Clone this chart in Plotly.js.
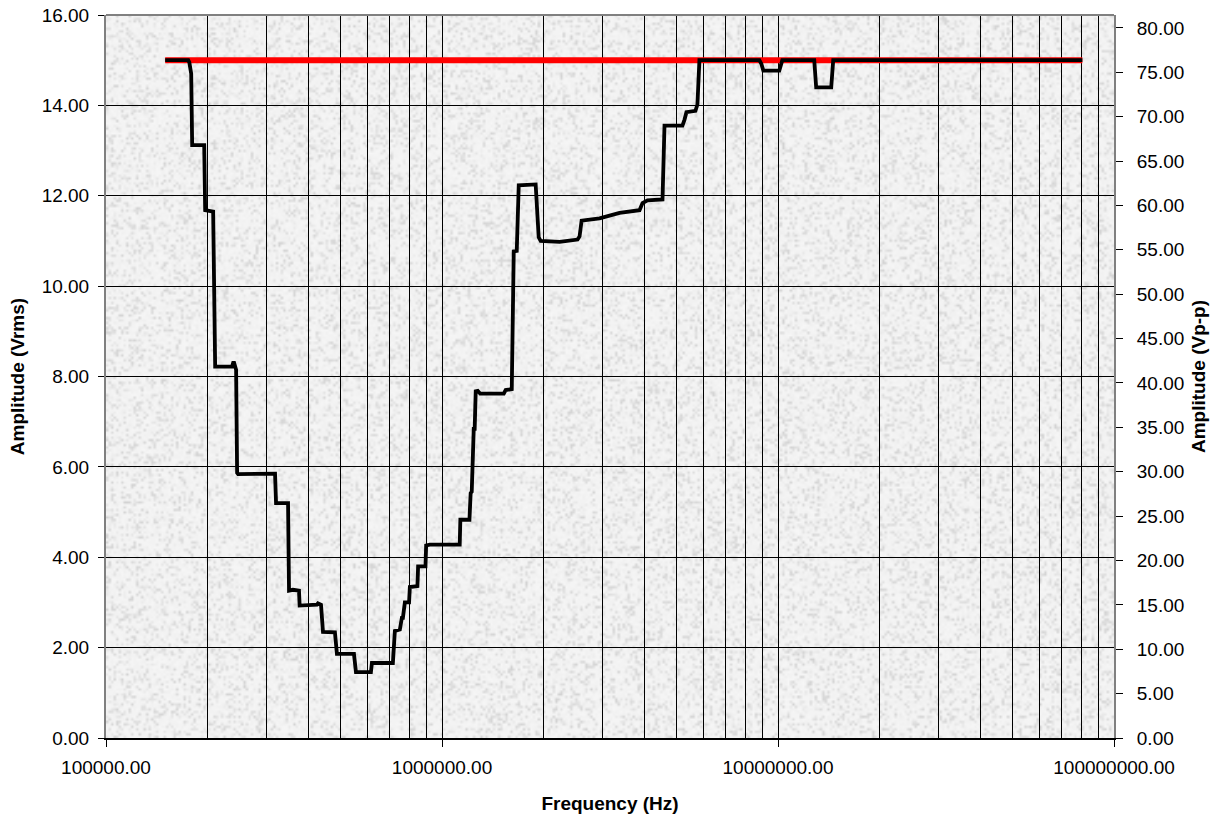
<!DOCTYPE html>
<html><head><meta charset="utf-8">
<script src="https://cdn.plot.ly/plotly-3.0.1.min.js"></script>
<style>body{margin:0;background:#fff}#chart{width:1217px;height:819px}</style>
</head><body><div id="chart"></div>
<script>
// Measured response (step curve vertices)
const frequencyHz = [
  150000, 175700, 177000, 178100, 179300, 180500, 196000, 197300, 208400, 211300,
  237300, 239000, 240600, 243900, 245600, 247300, 318500, 320700, 348200, 350500,
  360000, 375300, 377000, 424600, 427500, 436400, 442400, 480100, 486700, 547000,
  554500, 614400, 618600, 714200, 724000, 749200, 759600, 765000, 775300, 798000,
  802300, 845000, 849000, 893000, 897000, 920000, 1129000, 1134000, 1207000, 1217000,
  1226000, 1243000, 1251000, 1260000, 1278000, 1300000, 1527000, 1547000, 1613000, 1635000,
  1669000, 1692000, 1900000, 1940000, 1966000, 2239000, 2532000, 2567000, 2603000, 2944000,
  3376000, 3871000, 3952000, 4089000, 4532000, 4594000, 5195000, 5267000, 5340000, 5679000,
  5757000, 5836000, 8800000, 8920000, 9044000, 10090000, 10300000, 12820000, 12990000, 14400000,
  14600000, 80500000
];
const amplitudeVrms = [
  15.0, 15.0, 14.95, 14.75, 14.7, 13.12, 13.12, 11.68, 11.65, 8.22,
  8.22, 8.3, 8.3, 8.15, 5.87, 5.84, 5.85, 5.2, 5.2, 3.26,
  3.28, 3.26, 2.93, 2.95, 2.98, 2.95, 2.35, 2.34, 1.86, 1.86,
  1.46, 1.46, 1.66, 1.66, 2.37, 2.40, 2.66, 2.66, 3.0, 3.0,
  3.34, 3.36, 3.8, 3.8, 4.26, 4.28, 4.28, 4.83, 4.83, 5.42,
  5.45, 6.84, 6.84, 7.67, 7.68, 7.62, 7.62, 7.7, 7.72, 10.77,
  10.78, 12.23, 12.25, 11.08, 11.0, 10.98, 11.03, 11.1, 11.45, 11.5,
  11.62, 11.68, 11.84, 11.9, 11.92, 13.55, 13.55, 13.68, 13.85, 13.88,
  14.02, 15.0, 15.0, 14.92, 14.77, 14.77, 15.0, 15.0, 14.4, 14.4,
  15.0, 15.0
];
// Target level line
const limitFrequencyHz = [150000, 80500000];
const limitVrms = [15, 15];

// Axis ticks
const xTickVals = [1e5, 1e6, 1e7, 1e8];
const xTickText = ['100000.00', '1000000.00', '10000000.00', '100000000.00'];
const xMinorVals = [2e5,3e5,4e5,5e5,6e5,7e5,8e5,9e5,
                    2e6,3e6,4e6,5e6,6e6,7e6,8e6,9e6,
                    2e7,3e7,4e7,5e7,6e7,7e7,8e7,9e7];
const yLeftRange = [0, 16];
const yRightRange = [0, 81.45];

// background texture (deterministic)
function makeTexture(w, h) {
  let s = 987654321;
  function rnd() { s = (Math.imul(s, 1103515245) + 12345) >>> 0; return (s >>> 8) / 16777216; }
  const sw = Math.ceil(w / 2.5), sh = Math.ceil(h / 2.5);
  const small = document.createElement('canvas');
  small.width = sw; small.height = sh;
  const sctx = small.getContext('2d');
  const img = sctx.createImageData(sw, sh);
  for (let i = 0; i < sw * sh; i++) {
    const n = rnd();
    let v = 246 - n * 8;
    if (n > 0.7) v -= (n - 0.7) * 90;
    img.data[i*4] = v; img.data[i*4+1] = v; img.data[i*4+2] = v; img.data[i*4+3] = 255;
  }
  sctx.putImageData(img, 0, 0);
  const c = document.createElement('canvas');
  c.width = w; c.height = h;
  const ctx = c.getContext('2d');
  ctx.imageSmoothingEnabled = true;
  ctx.drawImage(small, 0, 0, w, h);
  return c.toDataURL('image/png');
}

const W = 1217, H = 819;
const M = {l: 106, r: 103, t: 15, b: 81};
const tex = makeTexture(W - M.l - M.r, H - M.t - M.b);

const font = 'Arial, "Liberation Sans", sans-serif';

const traces = [
  {x: limitFrequencyHz, y: limitVrms, type: 'scatter', mode: 'lines',
   line: {color: '#ff0000', width: 6}, hoverinfo: 'skip', showlegend: false},
  {x: frequencyHz, y: amplitudeVrms, type: 'scatter', mode: 'lines',
   line: {color: '#000000', width: 3.8}, showlegend: false},
  {x: limitFrequencyHz, y: [null, null], yaxis: 'y2', type: 'scatter', mode: 'lines',
   showlegend: false, hoverinfo: 'skip'}
];

const layout = {
  width: W, height: H,
  margin: M,
  paper_bgcolor: '#ffffff',
  plot_bgcolor: 'rgba(0,0,0,0)',
  font: {family: font, size: 19, color: '#000'},
  showlegend: false,
  images: [{source: tex, xref: 'paper', yref: 'paper', x: 0, y: 1, sizex: 1, sizey: 1,
            sizing: 'stretch', xanchor: 'left', yanchor: 'top', layer: 'below'}],
  xaxis: {
    type: 'log', range: [5, 8],
    tickmode: 'array', tickvals: xTickVals, ticktext: xTickText,
    ticks: 'outside', ticklen: 7, tickcolor: '#000', tickwidth: 1,
    showgrid: true, gridcolor: '#000', gridwidth: 1,
    minor: {tickmode: 'array', tickvals: xMinorVals, showgrid: true, gridcolor: '#000', gridwidth: 1, ticks: ''},
    showline: true, linecolor: '#000', linewidth: 2,
    zeroline: false,
    tickfont: {size: 19},
    ticklabelstandoff: 4,
    title: {text: '<b>Frequency (Hz)</b>', font: {size: 19}, standoff: 20}
  },
  yaxis: {
    range: yLeftRange, dtick: 2, tick0: 0, tickformat: '.2f',
    ticks: 'outside', ticklen: 6, tickcolor: '#000',
    showgrid: true, gridcolor: '#000', gridwidth: 1,
    showline: true, linecolor: '#808080', linewidth: 2,
    zeroline: false,
    tickfont: {size: 19},
    ticklabelstandoff: 5,
    title: {text: '<b>Amplitude (Vrms)</b>', font: {size: 19}, standoff: 12}
  },
  yaxis2: {
    overlaying: 'y', side: 'right',
    range: yRightRange, tickmode: 'array',
    tickvals: [0,5,10,15,20,25,30,35,40,45,50,55,60,65,70,75,80], tickformat: '.2f',
    ticks: 'outside', ticklen: 7, tickcolor: '#000',
    showgrid: false, zeroline: false,
    showline: true, linecolor: '#808080', linewidth: 2,
    tickfont: {size: 19},
    ticklabelstandoff: 10,
    title: {text: '<b>Amplitude (Vp-p)</b>', font: {size: 19}, standoff: 8}
  },
  shapes: [{type: 'line', xref: 'paper', yref: 'paper', x0: 0, x1: 1, y0: 1, y1: 1,
            line: {color: '#808080', width: 2}}]
};

Plotly.newPlot('chart', traces, layout, {displayModeBar: false, staticPlot: true});
</script>
</body></html>
